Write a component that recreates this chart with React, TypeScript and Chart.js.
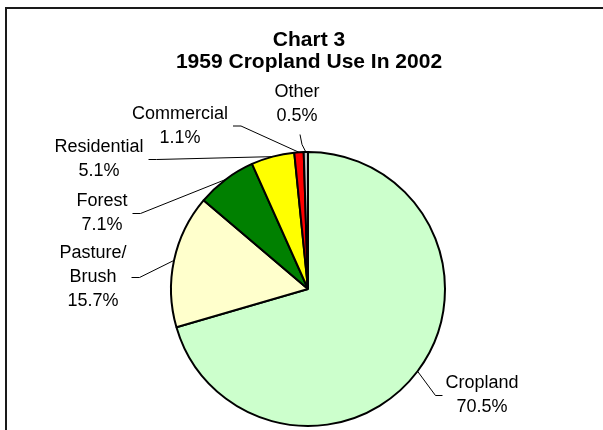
import React, { useEffect, useRef } from "react";
import { Chart, registerables } from "chart.js";

Chart.register(...registerables);

const categories = ["Cropland", "Pasture/Brush", "Forest", "Residential", "Commercial", "Other"];
const shares = [70.5, 15.7, 7.1, 5.1, 1.1, 0.5];
const titleLines = ["Chart 3", "1959 Cropland Use In 2002"];
const sliceColors = ["#CCFFCC", "#FFFFCC", "#008000", "#FFFF00", "#FF0000", "#C0C0C0"];

// label block centres and the side the leader line attaches to
const labelLayout = [
  { cx: 482, cy: 395.5, side: "left" },
  { cx: 93, cy: 277.5, side: "right" },
  { cx: 102, cy: 213.5, side: "right" },
  { cx: 99, cy: 159.5, side: "right" },
  { cx: 180, cy: 126, side: "right" },
  { cx: 297, cy: 104.5, side: "bottom" },
];

const FONT_LABEL = "18px 'Liberation Sans', Arial, sans-serif";
const FONT_TITLE = "bold 21px 'Liberation Sans', Arial, sans-serif";
const LINE_H = 24;

function splitName(name: string): string[] {
  const i = name.indexOf("/");
  if (i >= 0) return [name.slice(0, i + 1), name.slice(i + 1)];
  return [name];
}

const framePlugin = {
  id: "frame",
  beforeDraw(chart: any) {
    const ctx = chart.ctx as CanvasRenderingContext2D;
    ctx.save();
    ctx.fillStyle = "#FFFFFF";
    ctx.fillRect(0, 0, chart.width, chart.height);
    ctx.strokeStyle = "#1a1a1a";
    ctx.lineWidth = 2;
    ctx.strokeRect(6, 8, chart.width + 20, chart.height + 20);
    ctx.restore();
  },
};

const labelPlugin = {
  id: "excelLabels",
  afterDraw(chart: any) {
    const ctx = chart.ctx as CanvasRenderingContext2D;
    ctx.save();
    // title
    ctx.fillStyle = "#000000";
    ctx.font = FONT_TITLE;
    ctx.textAlign = "center";
    ctx.textBaseline = "middle";
    titleLines.forEach((t, i) => ctx.fillText(t, 309, 40 + i * 22));

    const meta = chart.getDatasetMeta(0);
    ctx.font = FONT_LABEL;
    meta.data.forEach((arc: any, i: number) => {
      const p = arc.getProps(["x", "y", "startAngle", "endAngle", "outerRadius"], true);
      const mid = (p.startAngle + p.endAngle) / 2;
      const ex = p.x + Math.cos(mid) * p.outerRadius;
      const ey = p.y + Math.sin(mid) * p.outerRadius;
      const lines = [...splitName(categories[i]), shares[i].toFixed(1) + "%"];
      const lay = labelLayout[i];
      const maxW = Math.max(...lines.map((l) => ctx.measureText(l).width));
      const top = lay.cy - ((lines.length - 1) * LINE_H) / 2;
      ctx.fillStyle = "#000000";
      lines.forEach((l, k) => ctx.fillText(l, lay.cx, top + k * LINE_H));

      let ax: number, ay: number, bx: number, by: number;
      if (lay.side === "right") {
        ax = lay.cx + maxW / 2 + 5;
        ay = lay.cy;
        bx = ax + 8;
        by = ay;
      } else if (lay.side === "left") {
        ax = lay.cx - maxW / 2 - 3;
        ay = lay.cy;
        bx = ax - 7;
        by = ay;
      } else {
        ax = lay.cx + 3;
        ay = lay.cy + 30;
        bx = ax + 2;
        by = ay + 10;
      }
      ctx.strokeStyle = "#000000";
      ctx.lineWidth = 1;
      ctx.beginPath();
      ctx.moveTo(ax, ay);
      ctx.lineTo(bx, by);
      ctx.lineTo(ex, ey);
      ctx.stroke();
    });
    ctx.restore();
  },
};

export default function App() {
  const ref = useRef<HTMLCanvasElement | null>(null);
  useEffect(() => {
    document.body.style.margin = "0";
    if (!ref.current) return;
    const chart = new Chart(ref.current, {
      type: "pie",
      data: {
        labels: categories,
        datasets: [
          {
            data: shares,
            backgroundColor: sliceColors,
            borderColor: "#000000",
            borderWidth: 2,
          },
        ],
      },
      options: {
        animation: false,
        responsive: false,
        devicePixelRatio: 1,
        radius: 137,
        layout: { padding: { left: 13, right: 0, top: 148, bottom: 0 } },
        plugins: {
          legend: { display: false },
          tooltip: { enabled: false },
          title: { display: false },
        },
      } as any,
      plugins: [framePlugin, labelPlugin],
    });
    return () => chart.destroy();
  }, []);
  return (
    <div style={{ position: "absolute", left: 0, top: 0, width: 603, height: 430 }}>
      <canvas ref={ref} width={603} height={430} style={{ width: 603, height: 430 }} />
    </div>
  );
}
